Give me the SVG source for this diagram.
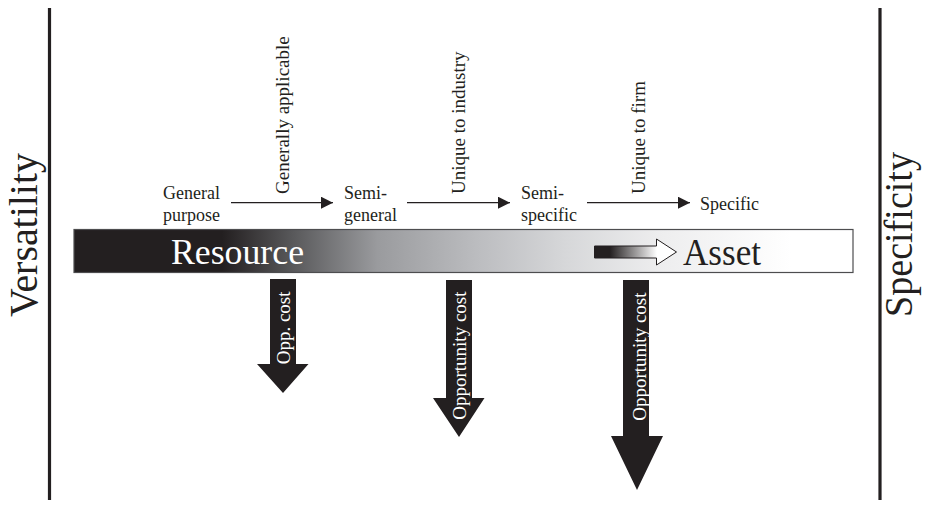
<svg xmlns="http://www.w3.org/2000/svg" width="926" height="506" viewBox="0 0 926 506">
<defs>
<style>
.t{font-family:"Liberation Serif","Times New Roman",serif;fill:#231f20}
.s{font-size:18px}
.v{font-size:19px}
.w{fill:#ffffff}
.conn{stroke:#231f20;stroke-width:1.3;fill:none}
.darr{fill:#231f20}
.axis{stroke:#231f20;stroke-width:3.2}
</style>
<linearGradient id="barg" x1="74" y1="0" x2="853" y2="0" gradientUnits="userSpaceOnUse">
<stop offset="0" stop-color="#231f20"/>
<stop offset="0.19" stop-color="#231f20"/>
<stop offset="0.28" stop-color="#58585a"/>
<stop offset="0.39" stop-color="#9a9b9e"/>
<stop offset="0.52" stop-color="#bcbdc0"/>
<stop offset="0.63" stop-color="#d6d7d9"/>
<stop offset="0.75" stop-color="#ededee"/>
<stop offset="0.92" stop-color="#ffffff"/>
<stop offset="1" stop-color="#ffffff"/>
</linearGradient>
<linearGradient id="smallg" x1="594" y1="0" x2="657" y2="0" gradientUnits="userSpaceOnUse">
<stop offset="0" stop-color="#231f20"/>
<stop offset="0.25" stop-color="#231f20"/>
<stop offset="1" stop-color="#ffffff"/>
</linearGradient>
<marker id="ah" viewBox="0 0 12 12" refX="12" refY="6" markerWidth="12" markerHeight="12" markerUnits="userSpaceOnUse" orient="auto">
<path d="M0,0 L12,6 L0,12 Z" fill="#231f20"/>
</marker>
</defs>

<g id="axis-versatility">
<line class="axis" x1="49.5" y1="8" x2="49.5" y2="500"/>
<text class="t" font-size="40" transform="translate(37,317) rotate(-90)" textLength="164" lengthAdjust="spacingAndGlyphs">Versatility</text>
</g>
<g id="axis-specificity">
<line class="axis" x1="880" y1="8" x2="880" y2="500"/>
<text class="t" font-size="40" transform="translate(912,317) rotate(-90)" textLength="165" lengthAdjust="spacingAndGlyphs">Specificity</text>
</g>

<g id="bar">
<rect x="74" y="229.5" width="779" height="43" fill="url(#barg)" stroke="#4d4d4f" stroke-width="1.2"/>
<text class="t w" font-size="36" x="171" y="263.5" textLength="133" lengthAdjust="spacingAndGlyphs">Resource</text>
<path d="M594.5,246 L656.5,246 L656.5,239 L676.5,252 L656.5,265 L656.5,258 L594.5,258 Z" fill="url(#smallg)" stroke="#231f20" stroke-width="1"/>
<text class="t" font-size="38" x="683" y="265" textLength="78" lengthAdjust="spacingAndGlyphs">Asset</text>
</g>

<g id="node-general-purpose">
<text class="t s" x="163" y="199">General</text>
<text class="t s" x="163" y="221">purpose</text>
</g>
<g id="node-semi-general">
<text class="t s" x="344" y="199">Semi-</text>
<text class="t s" x="344" y="221">general</text>
</g>
<g id="node-semi-specific">
<text class="t s" x="521" y="199">Semi-</text>
<text class="t s" x="521" y="221">specific</text>
</g>
<g id="node-specific">
<text class="t s" x="700" y="210">Specific</text>
</g>

<g id="connectors">
<line class="conn" x1="231" y1="202.7" x2="333" y2="202.7" marker-end="url(#ah)"/>
<line class="conn" x1="407" y1="202.7" x2="510" y2="202.7" marker-end="url(#ah)"/>
<line class="conn" x1="587" y1="202.7" x2="690" y2="202.7" marker-end="url(#ah)"/>
<text class="t v" transform="translate(288.5,194) rotate(-90)">Generally applicable</text>
<text class="t v" transform="translate(465,194) rotate(-90)">Unique to industry</text>
<text class="t v" transform="translate(645,194) rotate(-90)">Unique to firm</text>
</g>

<g id="cost-1">
<path class="darr" d="M270,279 L296,279 L296,364 L308.5,364 L283,393 L257,364 L270,364 Z"/>
<text class="t v w" text-anchor="end" transform="translate(289.5,291.5) rotate(-90)">Opp. cost</text>
</g>
<g id="cost-2">
<path class="darr" d="M446,280 L472,280 L472,398 L484.5,398 L459,437 L433,398 L446,398 Z"/>
<text class="t v w" text-anchor="end" transform="translate(465.5,291.5) rotate(-90)">Opportunity cost</text>
</g>
<g id="cost-3">
<path class="darr" d="M623,280 L649,280 L649,436 L663,436 L637,490 L611,436 L623,436 Z"/>
<text class="t v w" text-anchor="end" transform="translate(645.5,292.5) rotate(-90)">Opportunity cost</text>
</g>
</svg>
